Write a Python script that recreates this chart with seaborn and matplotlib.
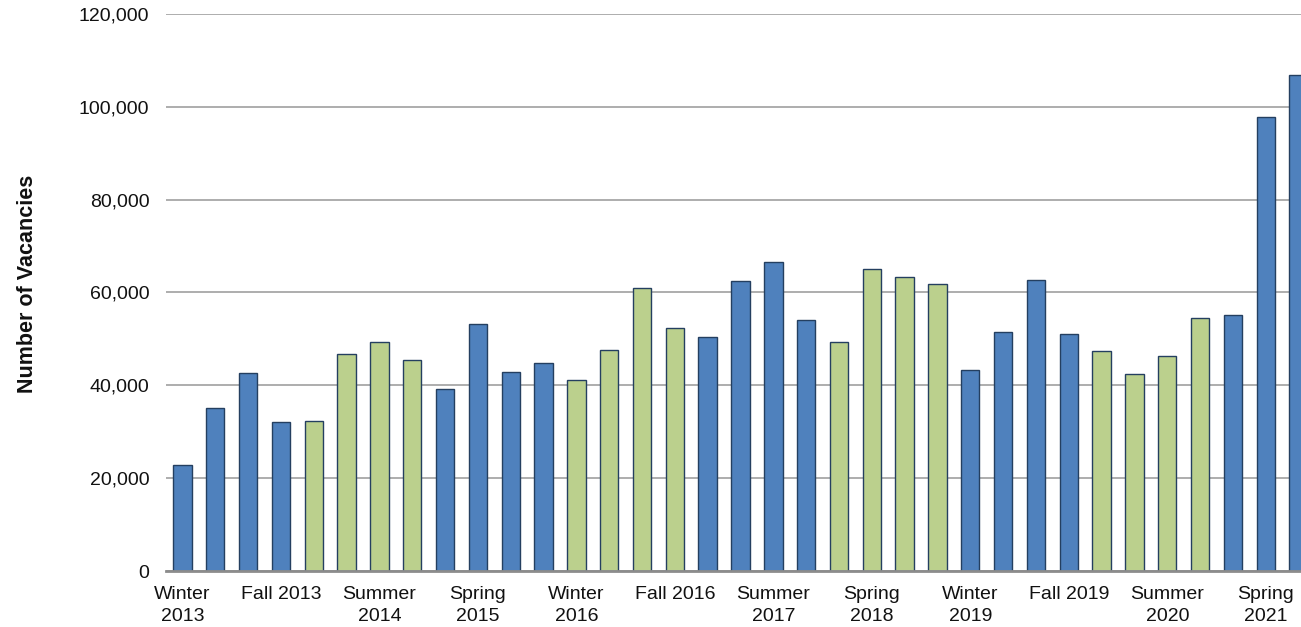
import matplotlib
matplotlib.use("Agg")
import matplotlib.pyplot as plt
import seaborn as sns
import pandas as pd
from matplotlib.ticker import FuncFormatter

# Quarterly job vacancy counts, Winter 2013 through Summer 2021
seasons = ["Winter", "Spring", "Summer", "Fall"]
periods = [f"{seasons[i % 4]} {2013 + i // 4}" for i in range(35)]
vacancies = [
    22800, 35100, 42700, 32100, 32300, 46700, 49300, 45500, 39200, 53200,
    42900, 44800, 41100, 47600, 61000, 52300, 50400, 62500, 66600, 54100,
    49300, 65100, 63300, 61800, 43300, 51500, 62700, 51100, 47400, 42400,
    46300, 54500, 55100, 97800, 106900,
]
groups = [
    "A", "A", "A", "A", "B", "B", "B", "B", "A", "A",
    "A", "A", "B", "B", "B", "B", "A", "A", "A", "A",
    "B", "B", "B", "B", "A", "A", "A", "A", "B", "B",
    "B", "B", "A", "A", "A",
]
tick_labels = {
    "Winter 2013": "Winter\n2013", "Fall 2013": "Fall 2013",
    "Summer 2014": "Summer\n2014", "Spring 2015": "Spring\n2015",
    "Winter 2016": "Winter\n2016", "Fall 2016": "Fall 2016",
    "Summer 2017": "Summer\n2017", "Spring 2018": "Spring\n2018",
    "Winter 2019": "Winter\n2019", "Fall 2019": "Fall 2019",
    "Summer 2020": "Summer\n2020", "Spring 2021": "Spring\n2021",
}

df = pd.DataFrame({"period": periods, "vacancies": vacancies, "group": groups})

sns.set_theme(style="white")
plt.rcParams["font.family"] = ["Liberation Sans", "DejaVu Sans"]

fig = plt.figure(figsize=(13.01, 6.27), dpi=100)
ax = fig.add_axes([166 / 1301, 1 - 571 / 627, 1149 / 1301, 557 / 627])

sns.barplot(
    data=df, x="period", y="vacancies", hue="group", order=periods,
    palette={"A": "#4F81BD", "B": "#BBD08D"}, saturation=1, dodge=False,
    width=0.56, edgecolor="#243F60", linewidth=1.0, legend=False, ax=ax,
)

ax.set_ylim(0, 120000)
ax.set_xlim(-0.5, len(periods) - 0.5)
ax.set_yticks(range(0, 120001, 20000))
ax.yaxis.set_major_formatter(FuncFormatter(lambda v, p: f"{int(v):,}"))
ax.grid(axis="y", color="#A0A0A0", linewidth=1.2)
ax.set_axisbelow(True)

pos = [i for i, p in enumerate(periods) if p in tick_labels]
ax.set_xticks(pos)
ax.set_xticklabels([tick_labels[periods[i]] for i in pos], fontsize=14,
                   color="#111111", linespacing=1.4)
ax.tick_params(axis="x", length=0, pad=11)
ax.tick_params(axis="y", length=0, pad=12, labelsize=14, labelcolor="#111111")

for side in ["top", "right", "left"]:
    ax.spines[side].set_visible(False)
ax.spines["bottom"].set_color("#8C8C8C")
ax.spines["bottom"].set_linewidth(2)

ax.set_xlabel("")
ax.set_ylabel("")
fig.text(28 / 1301, 1 - 284 / 627, "Number of Vacancies", rotation=90,
         ha="center", va="center", fontsize=15.5, fontweight="bold", color="#111111")

fig.savefig("out.png", dpi=100)
